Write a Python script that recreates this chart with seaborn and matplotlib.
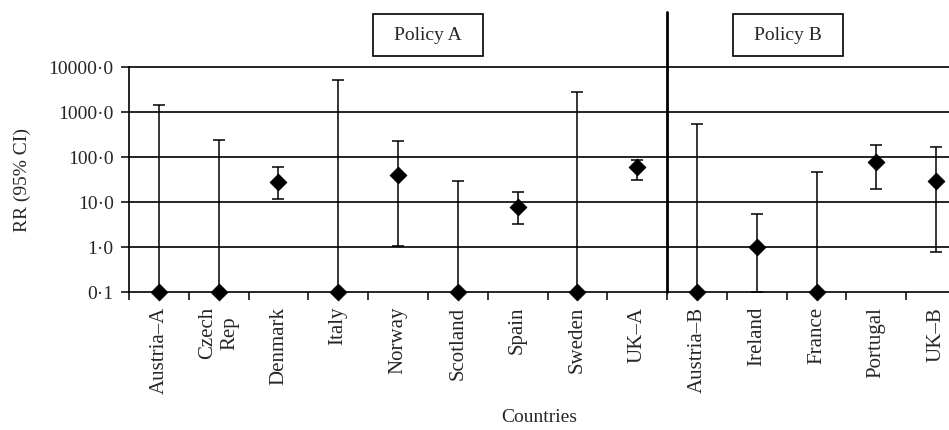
import matplotlib
matplotlib.use("Agg")
import matplotlib.pyplot as plt
import matplotlib.patches as patches
import numpy as np
import pandas as pd
import seaborn as sns

# values (log scale, 0.1 = floor)
countries = ["Austria\u2013A", "Czech\nRep", "Denmark", "Italy", "Norway", "Scotland",
             "Spain", "Sweden", "UK\u2013A", "Austria\u2013B", "Ireland", "France",
             "Portugal", "UK\u2013B"]
rr = [0.1, 0.1, 28, 0.1, 39, 0.1, 7.6, 0.1, 59, 0.1, 1.0, 0.1, 76, 29]
ci_low = [0.1, 0.1, 11.7, 0.1, 1.05, 0.1, 3.2, 0.1, 31.5, 0.1, 0.1, 0.1, 19, 0.78]
ci_high = [1450, 240, 60, 5100, 230, 29.5, 16.6, 2770, 87, 540, 5.3, 46, 185, 170]
policy = ["A"] * 9 + ["B"] * 5
yticks = [0.1, 1, 10, 100, 1000, 10000]
ytick_labels = ["0\u00b71", "1\u00b70", "10\u00b70", "100\u00b70", "1000\u00b70", "10000\u00b70"]

df = pd.DataFrame({"country": countries, "rr": rr, "low": ci_low, "high": ci_high,
                   "policy": policy})
df["pos"] = np.arange(len(df))

sns.set_style("white")
plt.rcParams["font.family"] = ["Liberation Serif", "DejaVu Serif"]
plt.rcParams["font.size"] = 14

W, H = 949, 431
fig = plt.figure(figsize=(W / 100, H / 100), dpi=100)
ax = fig.add_axes([129 / W, 1 - 293 / H, (966 - 129) / W, (293 - 68) / H])

ax.set_yscale("log")
ax.set_ylim(0.1, 10000)
ax.set_xlim(-0.5, len(df) - 0.5)

for y in yticks[1:]:
    ax.axhline(y, color="black", lw=1.2, zorder=1, clip_on=False)

yerr = np.array([df["rr"] - df["low"], df["high"] - df["rr"]])
ax.errorbar(df["pos"], df["rr"], yerr=yerr, fmt="none", ecolor="black",
            elinewidth=1.1, capsize=4.6, capthick=1.1, zorder=2, clip_on=False)
sns.scatterplot(data=df, x="pos", y="rr", marker="D", color="black", s=72,
                edgecolor="black", ax=ax, zorder=3, clip_on=False, legend=False)

ax.set_yticks(yticks)
ax.set_yticklabels(ytick_labels)
ax.yaxis.set_minor_locator(matplotlib.ticker.NullLocator())
ax.set_xticks(df["pos"])
ax.set_xticklabels(df["country"], rotation=90, va="top", ha="center",
                   multialignment="center")
ax.set_xticks(np.arange(-0.5, len(df)), minor=True)
ax.tick_params(axis="x", which="major", length=0, pad=10, labelsize=15)
ax.tick_params(axis="x", which="minor", length=6, width=1.1, color="black",
               direction="out", bottom=True)
ax.tick_params(axis="y", which="major", length=6, width=1.1, color="black",
               direction="out", left=True, pad=5, labelsize=14)

for side in ["top", "right"]:
    ax.spines[side].set_visible(False)
for side in ["left", "bottom"]:
    ax.spines[side].set_color("black")
    ax.spines[side].set_linewidth(1.2)

# divider between the two policy groups
n_a = policy.count("A")
ax.axvline(n_a - 0.5, ymin=0, ymax=(293 - 13) / (293 - 68), color="black",
           lw=2, clip_on=False, zorder=4)

ax.set_xlabel("Countries", fontsize=14)
ax.xaxis.set_label_coords((539 - 129) / (966 - 129), -(409 - 293) / (293 - 68))
ax.set_ylabel("RR (95% CI)", fontsize=14, labelpad=13)

for label, cx in [("Policy A", 428), ("Policy B", 788)]:
    fig.patches.append(patches.Rectangle(((cx - 55) / W, 1 - 57 / H), 110 / W, 42 / H,
                                         transform=fig.transFigure, fill=False,
                                         edgecolor="black", lw=1.2))
    fig.text(cx / W, 1 - 36 / H, label, ha="center", va="center", fontsize=14)

fig.savefig("out.png", dpi=100)
